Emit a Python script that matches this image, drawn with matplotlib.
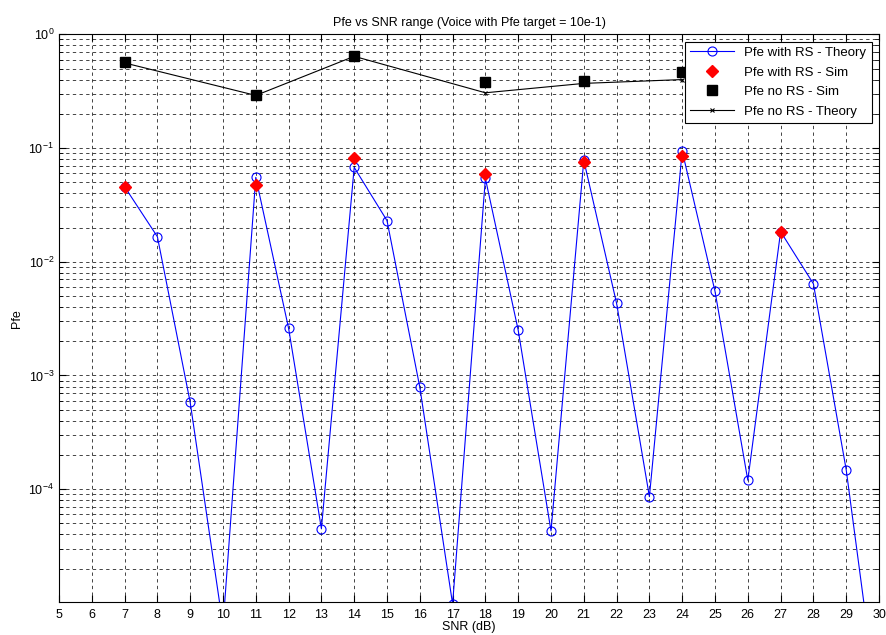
import matplotlib
matplotlib.use("Agg")
import matplotlib.pyplot as plt
import matplotlib.ticker as mticker
import numpy as np

plt.rcParams['font.family'] = ['Liberation Sans', 'DejaVu Sans']
plt.rcParams['mathtext.fontset'] = 'custom'
plt.rcParams['mathtext.rm'] = 'Liberation Sans'

# SNR values (dB)
snr_theory = [7, 8, 9, 10, 11, 12, 13, 14, 15, 16, 17, 18, 19, 20, 21, 22, 23, 24, 25, 26, 27, 28, 29, 30]
pfe_rs_theory = [0.0457, 0.0166, 5.8e-4, 6.3e-6, 0.0552, 2.6e-3, 4.5e-5, 0.0676, 0.023, 7.9e-4,
                 9.8e-6, 0.054, 2.5e-3, 4.3e-5, 0.078, 4.3e-3, 8.6e-5, 0.094, 5.5e-3, 1.2e-4,
                 0.0184, 6.4e-3, 1.48e-4, 1.0e-6]

snr_rs_sim = [7, 11, 14, 18, 21, 24, 27]
pfe_rs_sim = [0.0457, 0.0475, 0.081, 0.059, 0.075, 0.0855, 0.0184]

snr_nors = [7, 11, 14, 18, 21, 24]
pfe_nors_sim = [0.567, 0.291, 0.648, 0.378, 0.388, 0.463]
pfe_nors_theory = [0.56, 0.29, 0.64, 0.306, 0.37, 0.40]

fig = plt.figure(figsize=(8.87, 6.35), dpi=100)
ax = fig.add_axes([0.0665, 0.052, 0.9245, 0.894])

ax.semilogy(snr_theory, pfe_rs_theory, '-o', color='blue', lw=0.8,
            markerfacecolor='none', markeredgecolor='blue', markersize=6.5, mew=0.8,
            label='Pfe with RS - Theory')
ax.semilogy(snr_rs_sim, pfe_rs_sim, 'D', color='red', markersize=6.5,
            label='Pfe with RS - Sim')
ax.semilogy(snr_nors, pfe_nors_sim, 's', color='black', markersize=6.5,
            label='Pfe no RS - Sim')
ax.semilogy(snr_nors, pfe_nors_theory, '-x', color='black', lw=0.8, markersize=3.5, mew=0.8,
            label='Pfe no RS - Theory')

ax.set_xlim(5, 30)
ax.set_ylim(1.02e-5, 1)
ax.set_xticks(np.arange(5, 31, 1))
ax.yaxis.set_major_locator(mticker.LogLocator(base=10, numticks=10))
ax.yaxis.set_minor_locator(mticker.LogLocator(base=10, subs=np.arange(2, 10), numticks=20))
ax.yaxis.set_minor_formatter(mticker.NullFormatter())

grid_style = dict(color='black', linestyle=(0, (4, 4)), linewidth=0.6, alpha=0.85)
ax.grid(True, which='major', axis='both', **grid_style)
ax.grid(True, which='minor', axis='y', **grid_style)

ax.tick_params(which='both', direction='in', top=True, right=True, labelsize=9)
ax.tick_params(which='major', length=5)
ax.tick_params(which='minor', length=3)
ax.tick_params(axis='x', pad=5)
for sp in ax.spines.values():
    sp.set_linewidth(0.8)

ax.set_title('Pfe vs SNR range (Voice with Pfe target = 10e-1)', fontsize=9, pad=6)
ax.set_xlabel('SNR (dB)', fontsize=9, labelpad=0)
ax.set_ylabel('Pfe', fontsize=9)

leg = ax.legend(loc='upper right', fontsize=9.5, fancybox=False, framealpha=1,
                edgecolor='black', borderaxespad=0.55, handlelength=3.3,
                labelspacing=0.55, borderpad=0.4)
leg.get_frame().set_linewidth(0.8)

fig.savefig('out.png', dpi=100)
